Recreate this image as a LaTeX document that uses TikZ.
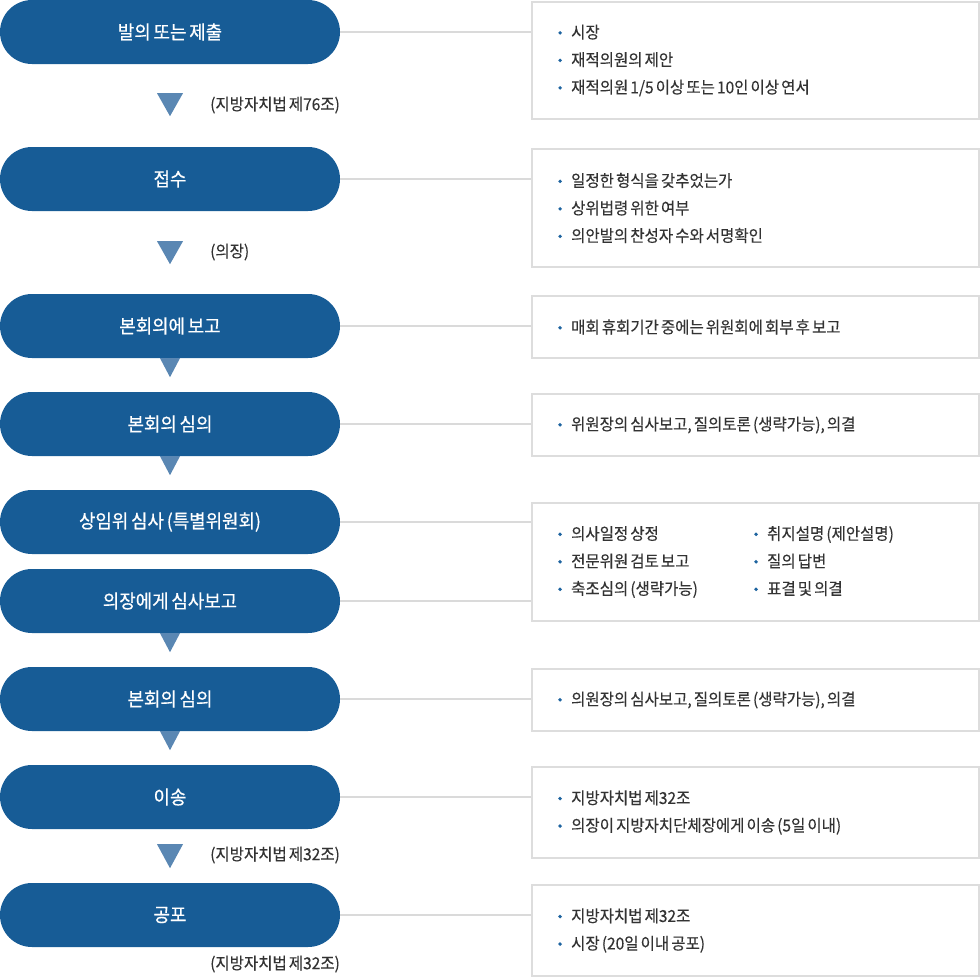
\documentclass[tikz,border=0pt]{standalone}
\usepackage{fontspec}
\setmainfont{Noto Sans CJK KR}
\newfontfamily\pillfont{Noto Sans CJK KR}[FakeStretch=0.94, FakeBold=0.6, WordSpace=0.7]
\newfontfamily\notefont{Noto Sans CJK KR}[FakeStretch=0.94, FakeBold=0.25, WordSpace=0.6]
\usetikzlibrary{positioning}

\definecolor{pillblue}{RGB}{23,92,150}
\definecolor{triblue}{RGB}{90,135,179}
\definecolor{boxgray}{RGB}{221,221,221}
\definecolor{linegray}{RGB}{218,218,218}
\definecolor{txtgray}{RGB}{51,51,51}
\definecolor{dotblue}{RGB}{30,100,160}

\newcommand{\itm}{\makebox[13pt][l]{\tikz[baseline=0pt]\fill[dotblue] (1.9pt,0.33em) circle (1.9pt);}}

\tikzset{
  pill/.style={fill=pillblue, text=white, rounded corners=32pt, minimum width=340pt,
    minimum height=64pt, inner sep=0pt, font=\pillfont\fontsize{19}{22}\selectfont},
  infobox/.style={draw=boxgray, line width=2pt, fill=white, anchor=north west,
    minimum width=447pt},
  items/.style={anchor=west, align=left, inner sep=0pt, text=txtgray,
    font=\notefont\fontsize{16.5}{27.5}\selectfont},
  link/.style={draw=linegray, line width=2pt},
  tri/.style={fill=triblue},
  note/.style={anchor=west, inner sep=0pt, text=txtgray, font=\notefont\fontsize{16.5}{19}\selectfont}
}

\begin{document}
\begin{tikzpicture}[x=1pt,y=-1pt]
  \useasboundingbox (0,0) rectangle (980,977);

  % steps
  \node[pill] (p1) at (170,32) {발의 또는 제출};
  \node[pill] (p2) at (170,179) {접수};
  \node[pill] (p3) at (170,326) {본회의에 보고};
  \node[pill] (p4) at (170,424) {본회의 심의};
  \node[pill] (p5) at (170,522) {상임위 심사 (특별위원회)};
  \node[pill] (p6) at (170,601) {의장에게 심사보고};
  \node[pill] (p7) at (170,699) {본회의 심의};
  \node[pill] (p8) at (170,797) {이송};
  \node[pill] (p9) at (170,915) {공포};

  % arrows
  \fill[tri] ([shift={(-13,29)}]p1.south) -- ++(26,0) -- ++(-13,23) -- cycle;
  \fill[tri] ([shift={(-13,30)}]p2.south) -- ++(26,0) -- ++(-13,23) -- cycle;
  \fill[tri] ([shift={(-10,0)}]p3.south) -- ++(20,0) -- ++(-10,19) -- cycle;
  \fill[tri] ([shift={(-10,0)}]p4.south) -- ++(20,0) -- ++(-10,19) -- cycle;
  \fill[tri] ([shift={(-10,0)}]p6.south) -- ++(20,0) -- ++(-10,19) -- cycle;
  \fill[tri] ([shift={(-10,0)}]p7.south) -- ++(20,0) -- ++(-10,19) -- cycle;
  \fill[tri] ([shift={(-13,15)}]p8.south) -- ++(26,0) -- ++(-13,24) -- cycle;

  \node[note] (n1) at (210,105) {(지방자치법 제76조)};
  \node[note] (n2) at (210,252) {(의장)};
  \node[note] (n3) at (210,855) {(지방자치법 제32조)};
  \node[note] (n4) at (210,964) {(지방자치법 제32조)};

  % details
  \node[infobox, minimum height=117pt] (b1) at (531,1) {};
  \node[infobox, minimum height=118pt] (b2) at (531,148) {};
  \node[infobox, minimum height=62pt] (b3) at (531,295) {};
  \node[infobox, minimum height=62pt] (b4) at (531,393) {};
  \node[infobox, minimum height=118pt] (b5) at (531,502) {};
  \node[infobox, minimum height=62pt] (b6) at (531,668) {};
  \node[infobox, minimum height=91pt] (b7) at (531,766) {};
  \node[infobox, minimum height=91pt] (b8) at (531,884) {};

  \node[items] (t1) at ([xshift=27pt]b1.west)
    {\itm 시장\\ \itm 재적의원의 제안\\ \itm 재적의원 1/5 이상 또는 10인 이상 연서};
  \node[items] (t2) at ([xshift=27pt]b2.west)
    {\itm 일정한 형식을 갖추었는가\\ \itm 상위법령 위한 여부\\ \itm 의안발의 찬성자 수와 서명확인};
  \node[items] (t3) at ([xshift=27pt]b3.west)
    {\itm 매회 휴회기간 중에는 위원회에 회부 후 보고};
  \node[items] (t4) at ([xshift=27pt]b4.west)
    {\itm 위원장의 심사보고, 질의토론 (생략가능), 의결};
  \node[items] (t5) at ([xshift=27pt]b5.west)
    {\makebox[196pt][l]{\itm 의사일정 상정}\itm 취지설명 (제안설명)\\
     \makebox[196pt][l]{\itm 전문위원 검토 보고}\itm 질의 답변\\
     \makebox[196pt][l]{\itm 축조심의 (생략가능)}\itm 표결 및 의결};
  \node[items] (t6) at ([xshift=27pt]b6.west)
    {\itm 의원장의 심사보고, 질의토론 (생략가능), 의결};
  \node[items] (t7) at ([xshift=27pt]b7.west)
    {\itm 지방자치법 제32조\\ \itm 의장이 지방자치단체장에게 이송 (5일 이내)};
  \node[items] (t8) at ([xshift=27pt]b8.west)
    {\itm 지방자치법 제32조\\ \itm 시장 (20일 이내 공포)};

  % links
  \draw[link] (p1.east) -- (p1.east -| b1.west);
  \draw[link] (p2.east) -- (p2.east -| b2.west);
  \draw[link] (p3.east) -- (p3.east -| b3.west);
  \draw[link] (p4.east) -- (p4.east -| b4.west);
  \draw[link] (p5.east) -- (p5.east -| b5.west);
  \draw[link] (p6.east) -- (p6.east -| b5.west);
  \draw[link] (p7.east) -- (p7.east -| b6.west);
  \draw[link] (p8.east) -- (p8.east -| b7.west);
  \draw[link] (p9.east) -- (p9.east -| b8.west);
\end{tikzpicture}
\end{document}
